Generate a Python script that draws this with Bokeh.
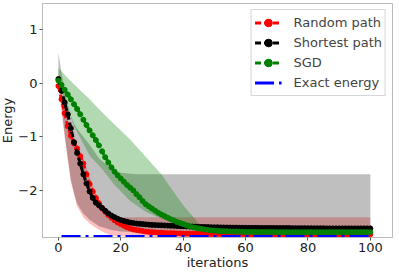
from bokeh.plotting import figure
from bokeh.models import ColumnDataSource, Legend, LegendItem, FixedTicker, Range1d
from bokeh.embed import file_html
from bokeh.resources import INLINE

iterations = list(range(101))

random_path = [
    -0.05, -0.30, -0.56, -0.80, -0.98, -1.12, -1.22, -1.36, -1.50, -1.70,
    -1.88, -2.02, -2.14, -2.24, -2.33, -2.40, -2.46, -2.51, -2.56, -2.60,
    -2.63, -2.66, -2.69, -2.71, -2.73, -2.74, -2.75, -2.76, -2.77, -2.775,
    -2.78, -2.785, -2.79, -2.79, -2.795, -2.80, -2.80, -2.80, -2.805, -2.805,
    -2.81, -2.81, -2.81, -2.81, -2.81, -2.81, -2.81, -2.815, -2.815, -2.815,
    -2.815, -2.815, -2.815, -2.815, -2.815, -2.815, -2.815, -2.815, -2.815, -2.815,
    -2.82, -2.82, -2.82, -2.82, -2.82, -2.82, -2.82, -2.82, -2.82, -2.82,
    -2.82, -2.82, -2.82, -2.82, -2.82, -2.82, -2.82, -2.82, -2.82, -2.82,
    -2.82, -2.82, -2.82, -2.82, -2.82, -2.82, -2.82, -2.82, -2.82, -2.82,
    -2.82, -2.82, -2.82, -2.82, -2.82, -2.82, -2.82, -2.82, -2.82, -2.82,
    -2.82,
]

shortest_path = [
    0.08, -0.14, -0.36, -0.58, -0.84, -1.10, -1.30, -1.50, -1.70, -1.87,
    -2.02, -2.14, -2.23, -2.28, -2.33, -2.38, -2.43, -2.47, -2.50, -2.53,
    -2.555, -2.57, -2.585, -2.60, -2.61, -2.62, -2.625, -2.63, -2.635, -2.64,
    -2.645, -2.648, -2.65, -2.652, -2.655, -2.658, -2.66, -2.662, -2.665, -2.668,
    -2.67, -2.672, -2.674, -2.676, -2.678, -2.68, -2.682, -2.684, -2.686, -2.688,
    -2.69, -2.69, -2.692, -2.692, -2.694, -2.694, -2.696, -2.696, -2.698, -2.698,
    -2.70, -2.70, -2.70, -2.70, -2.70, -2.702, -2.702, -2.702, -2.702, -2.702,
    -2.704, -2.704, -2.704, -2.704, -2.704, -2.706, -2.706, -2.706, -2.706, -2.706,
    -2.708, -2.708, -2.708, -2.708, -2.708, -2.708, -2.71, -2.71, -2.71, -2.71,
    -2.71, -2.71, -2.71, -2.71, -2.71, -2.71, -2.71, -2.71, -2.71, -2.71,
    -2.71,
]

sgd = [
    0.05, -0.03, -0.12, -0.21, -0.30, -0.39, -0.48, -0.58, -0.68, -0.78,
    -0.88, -0.97, -1.06, -1.16, -1.27, -1.38, -1.48, -1.57, -1.65, -1.72,
    -1.78, -1.84, -1.90, -1.95, -2.00, -2.07, -2.13, -2.20, -2.26, -2.30,
    -2.34, -2.38, -2.42, -2.45, -2.48, -2.51, -2.54, -2.56, -2.59, -2.61,
    -2.63, -2.65, -2.67, -2.69, -2.70, -2.71, -2.72, -2.73, -2.74, -2.745,
    -2.75, -2.755, -2.76, -2.762, -2.765, -2.768, -2.77, -2.77, -2.772, -2.772,
    -2.775, -2.775, -2.775, -2.776, -2.776, -2.777, -2.777, -2.778, -2.778, -2.778,
    -2.78, -2.78, -2.78, -2.78, -2.78, -2.78, -2.78, -2.78, -2.78, -2.78,
    -2.78, -2.78, -2.78, -2.78, -2.78, -2.78, -2.78, -2.78, -2.78, -2.78,
    -2.78, -2.78, -2.78, -2.78, -2.78, -2.78, -2.78, -2.78, -2.78, -2.78,
    -2.78,
]

exact_x = [1, 101]
exact_energy = [-2.86, -2.86]

# Band edges (read at sparse iterations)
red_band_x = [0, 2, 4, 6, 8, 10, 12, 14, 16, 18, 30, 100]
red_band_upper = [0.0, -0.45, -0.9, -1.15, -1.4, -1.75, -2.05, -2.3, -2.45, -2.5, -2.5, -2.5]
red_band_lower = [-0.1, -1.0, -1.85, -2.3, -2.5, -2.62, -2.7, -2.77, -2.82, -2.85, -2.87, -2.87]

gray_band_x = [0, 1, 2, 3, 4, 5, 6, 8, 10, 13, 17, 20, 25, 30, 100]
gray_band_upper = [0.57, 0.2, -0.12, -0.4, -0.6, -0.75, -0.85, -1.0, -1.15, -1.4, -1.6, -1.67, -1.7, -1.7, -1.7]
gray_band_lower = [0.0, -0.4, -0.95, -1.4, -1.8, -2.05, -2.25, -2.43, -2.55, -2.67, -2.74, -2.77, -2.78, -2.78, -2.78]

green_band_x = [0, 5, 10, 14, 18, 23, 28, 33, 36, 40, 45, 50, 55, 60, 100]
green_band_upper = [0.28, -0.02, -0.3, -0.54, -0.77, -1.05, -1.37, -1.7, -1.95, -2.28, -2.62, -2.73, -2.76, -2.77, -2.78]
green_band_lower = [0.0, -0.8, -1.35, -1.6, -1.9, -2.2, -2.4, -2.53, -2.58, -2.65, -2.72, -2.76, -2.78, -2.79, -2.8]

FONT = "DejaVu Sans"

p = figure(width=399, height=272, output_backend="svg", toolbar_location=None,
           x_range=Range1d(-5.1, 107.1), y_range=Range1d(-2.88, 1.49),
           min_border_left=41, min_border_right=4, min_border_top=3, min_border_bottom=35)
p.styles = {"margin-left": "-3px"}

p.background_fill_color = "white"
p.border_fill_color = "white"
p.outline_line_color = "#bbbbbb"
p.xgrid.visible = False
p.ygrid.visible = False

# bands
p.varea(x=red_band_x, y1=red_band_lower, y2=red_band_upper, fill_color="red", fill_alpha=0.25)
p.varea(x=gray_band_x, y1=gray_band_lower, y2=gray_band_upper, fill_color="black", fill_alpha=0.25)
p.varea(x=green_band_x, y1=green_band_lower, y2=green_band_upper, fill_color="green", fill_alpha=0.3)

src = ColumnDataSource(dict(x=iterations, r=random_path, s=shortest_path, g=sgd))

items = []
for col, color, label in [("r", "red", "Random path"), ("s", "black", "Shortest path"), ("g", "green", "SGD")]:
    ln = p.line("x", col, source=src, line_color=color, line_width=3, line_dash="6 3")
    sc = p.scatter("x", col, source=src, size=5, fill_color=color, line_color=color)
    items.append(LegendItem(label=label, renderers=[ln, sc]))

ex = p.line(exact_x, exact_energy, line_color="blue", line_width=3, line_dash="19 5 3 5")
items.append(LegendItem(label="Exact energy", renderers=[ex]))

legend = Legend(items=items, location="top_right", margin=6, padding=3, spacing=1,
                label_height=19, glyph_height=19, glyph_width=27, label_standoff=12,
                label_text_font=FONT, label_text_font_size="13px",
                border_line_color="#cccccc", border_line_alpha=0.8,
                background_fill_alpha=0.8)
p.add_layout(legend, "center")

for ax in (p.xaxis, p.yaxis):
    ax.axis_line_color = "#bbbbbb"
    ax.major_tick_line_color = "#555555"
    ax.major_tick_out = 3
    ax.major_tick_in = 0
    ax.minor_tick_line_color = None
    ax.major_label_text_font = FONT
    ax.major_label_text_font_size = "13px"
    ax.major_label_text_color = "#222222"
    ax.axis_label_text_font = FONT
    ax.axis_label_text_font_size = "13px"
    ax.axis_label_text_font_style = "normal"
    ax.axis_label_text_color = "#222222"
    ax.major_label_standoff = 2

p.xaxis.axis_label = "iterations"
p.yaxis.axis_label = "Energy"
p.xaxis.ticker = FixedTicker(ticks=[0, 20, 40, 60, 80, 100])
p.yaxis.ticker = FixedTicker(ticks=[-2, -1, 0, 1])
p.yaxis.major_label_overrides = {-2: "\u22122", -1: "\u22121", 0: "0", 1: "1"}
p.xaxis.axis_label_standoff = 0
p.yaxis.axis_label_standoff = 0

open("out.html", "w").write(file_html(p, INLINE))
